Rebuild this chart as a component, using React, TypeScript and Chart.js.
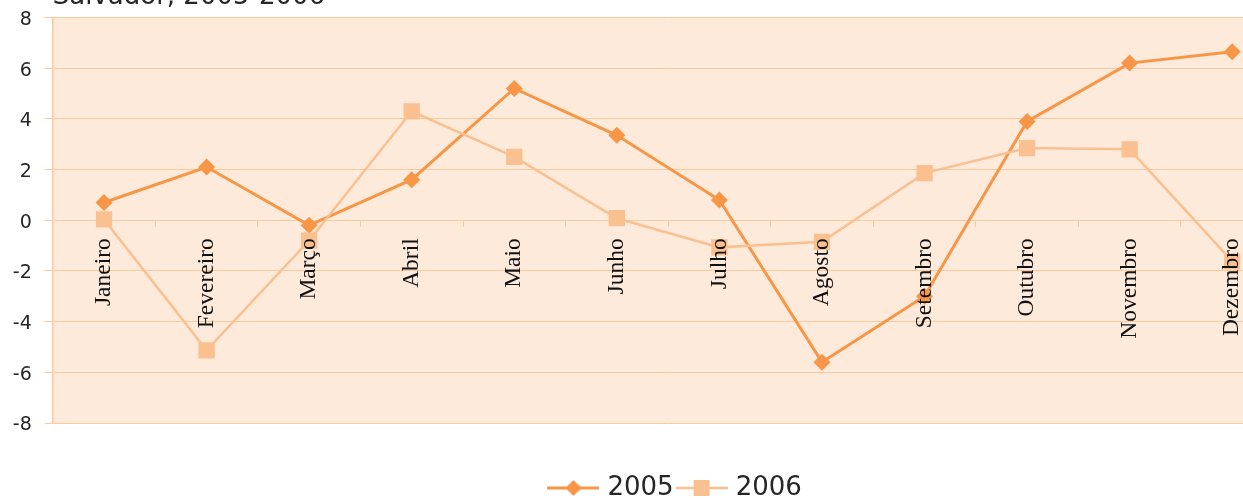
import React, { useEffect, useRef } from "react";
import { Chart, registerables } from "chart.js";

Chart.register(...registerables);

const TITLE = "Salvador, 2005-2006";
const MONTHS = [
  "Janeiro", "Fevereiro", "Março", "Abril", "Maio", "Junho",
  "Julho", "Agosto", "Setembro", "Outubro", "Novembro", "Dezembro",
];
const SERIES_NAMES = ["2005", "2006"];
const VALUES_2005 = [0.7, 2.1, -0.2, 1.6, 5.2, 3.35, 0.8, -5.6, -3.0, 3.9, 6.2, 6.65];
const VALUES_2006 = [0.03, -5.13, -0.8, 4.3, 2.5, 0.08, -1.07, -0.85, 1.86, 2.85, 2.8, -1.62];
const Y_MIN = -8;
const Y_MAX = 8;
const Y_STEP = 2;

const C2005 = "#f79646";
const C2006 = "#fac090";
const BG = "#fdeada";
const GRID = "#fbca9c";
const TEXT = "#262626";

function legendImage(kind: "diamond" | "square", color: string, lw: number) {
  const c = document.createElement("canvas");
  c.width = 52;
  c.height = 24;
  const ctx = c.getContext("2d")!;
  ctx.strokeStyle = color;
  ctx.lineWidth = lw;
  ctx.beginPath();
  ctx.moveTo(0, 12);
  ctx.lineTo(52, 12);
  ctx.stroke();
  ctx.fillStyle = color;
  if (kind === "diamond") {
    ctx.beginPath();
    ctx.moveTo(26, 4);
    ctx.lineTo(34, 12);
    ctx.lineTo(26, 20);
    ctx.lineTo(18, 12);
    ctx.closePath();
    ctx.fill();
  } else {
    ctx.fillRect(18, 4, 16, 16);
  }
  return c;
}

export default function App() {
  const ref = useRef<HTMLCanvasElement | null>(null);

  useEffect(() => {
    if (!ref.current) return;
    const imgs = [legendImage("diamond", C2005, 3), legendImage("square", C2006, 2.5)];

    const bgPlugin = {
      id: "areaBg",
      beforeDraw(chart: any) {
        const { ctx, chartArea } = chart;
        ctx.save();
        ctx.fillStyle = BG;
        ctx.fillRect(chartArea.left, chartArea.top, chartArea.right - chartArea.left, chartArea.bottom - chartArea.top);
        ctx.restore();
      },
    };
    const shiftLegend = {
      id: "shiftLegend",
      afterLayout(chart: any) {
        const l = chart.legend;
        if (l) {
          l.left += 9;
          l.right += 9;
        }
      },
    };

    const chart = new Chart(ref.current, {
      type: "line",
      data: {
        labels: MONTHS,
        datasets: [
          {
            label: SERIES_NAMES[0],
            data: VALUES_2005,
            borderColor: C2005,
            backgroundColor: C2005,
            borderWidth: 3,
            pointStyle: "rectRot",
            pointRadius: 8.5,
            pointBorderWidth: 0,
            pointBackgroundColor: C2005,
            tension: 0,
            order: 1,
          },
          {
            label: SERIES_NAMES[1],
            data: VALUES_2006,
            borderColor: C2006,
            backgroundColor: C2006,
            borderWidth: 2.5,
            pointStyle: "rect",
            pointRadius: 11.5,
            pointBorderWidth: 0,
            pointBackgroundColor: C2006,
            tension: 0,
            order: 0,
          },
        ],
      },
      options: {
        animation: false,
        responsive: false,
        devicePixelRatio: 1,
        layout: { padding: 0 },
        scales: {
          x: {
            type: "category",
            position: { y: 0 } as any,
            offset: true,
            grid: {
              offset: true,
              drawOnChartArea: false,
              drawTicks: true,
              tickLength: 7,
              color: GRID,
              lineWidth: 1,
            },
            border: { display: false },
            ticks: {
              z: 1,
              autoSkip: false,
              minRotation: 90,
              maxRotation: 90,
              padding: 11,
              color: "#111111",
              font: { family: "'Liberation Serif', 'Times New Roman', serif", size: 23.5 },
            },
          },
          y: {
            min: Y_MIN,
            max: Y_MAX,
            afterFit(scale: any) {
              scale.width = 52.75;
              scale.paddingTop = 4;
              scale.paddingBottom = 4;
            },
            grid: { color: GRID, lineWidth: 1, tickLength: 8 },
            border: { display: true, color: GRID, width: 1.5 },
            ticks: {
              stepSize: Y_STEP,
              padding: 13,
              labelOffset: 2.5,
              color: TEXT,
              font: { family: "'DejaVu Sans', sans-serif", size: 19 },
            },
          },
        },
        plugins: {
          tooltip: { enabled: false },
          title: {
            display: true,
            text: TITLE,
            align: "start",
            fullSize: false,
            color: TEXT,
            font: { family: "'DejaVu Sans', sans-serif", size: 26, weight: "normal" },
            padding: { top: -18.5, bottom: 4.8 },
          },
          legend: {
            display: true,
            position: "bottom",
            fullSize: false,
            title: {
              display: true,
              text: "",
              font: { size: 10 },
              padding: { top: 0, bottom: 33 },
            },
            labels: {
              usePointStyle: true,
              pointStyleWidth: 42,
              padding: 7,
              color: TEXT,
              font: { family: "'DejaVu Sans', sans-serif", size: 26 },
              generateLabels: (ch: any) =>
                ch.data.datasets.map((ds: any, i: number) => ({
                  text: ds.label,
                  pointStyle: imgs[i],
                  fillStyle: "transparent",
                  strokeStyle: "transparent",
                  lineWidth: 0,
                  hidden: false,
                  datasetIndex: i,
                  fontColor: TEXT,
                })),
            },
          },
        },
      },
      plugins: [bgPlugin, shiftLegend],
    } as any);

    return () => chart.destroy();
  }, []);

  return (
    <div style={{ position: "fixed", left: 0, top: 0, width: 1243, height: 498, overflow: "hidden", background: "#fff" }}>
      <canvas ref={ref} width={1295} height={511} style={{ display: "block" }} />
    </div>
  );
}
